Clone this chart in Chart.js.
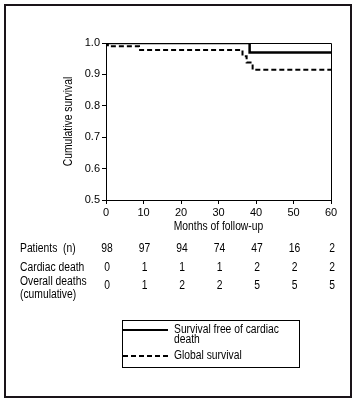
<!DOCTYPE html>
<html>
<head>
<meta charset="utf-8">
<script src="https://cdn.jsdelivr.net/npm/chart.js@4"></script>
<style>
  body { margin: 0; background: #fff; }
  canvas { display: block; }
</style>
</head>
<body>
<canvas id="km-chart" width="358" height="403"></canvas>
<script>
// Kaplan-Meier curves
const cardiacFreeMonths = [0, 38.3, 60];
const cardiacFreeSurvival = [1.0, 0.97, 0.97];
const globalMonths = [0, 0.5, 8.8, 36.4, 37.5, 39.1, 60];
const globalSurvival = [1.0, 0.99, 0.978, 0.958, 0.938, 0.915, 0.915];

// table under the chart
const tableMonths = [0, 10, 20, 30, 40, 50, 60];
const patientsAtRisk = [98, 97, 94, 74, 47, 16, 2];
const cardiacDeaths = [0, 1, 1, 1, 2, 2, 2];
const overallDeaths = [0, 1, 2, 2, 5, 5, 5];

const FONT = '"Liberation Sans", Arial, sans-serif';
const SQUEEZE = 0.86; // the original uses a condensed face

function toPoints(xs, ys) {
  return xs.map(function(x, i) { return { x: x, y: ys[i] }; });
}

// narrow text: squeeze horizontally around the anchor
function narrowText(ctx, text, x, y) {
  ctx.save();
  ctx.translate(x, y);
  ctx.scale(SQUEEZE, 1);
  ctx.fillText(text, 0, 0);
  ctx.restore();
}

// draws frame, box, axis titles, the at-risk table and the legend
const extrasPlugin = {
  id: 'extras',
  afterDraw: function(chart) {
    const ctx = chart.ctx;
    const area = chart.chartArea;
    const xs = chart.scales.x;
    ctx.save();

    // outer frame
    ctx.strokeStyle = '#1a1419';
    ctx.lineWidth = 2;
    ctx.strokeRect(5, 5, 346, 392);

    // top and right edges of the plot box
    ctx.strokeStyle = '#000';
    ctx.lineWidth = 1;
    ctx.beginPath();
    ctx.moveTo(area.left, area.top + 0.5);
    ctx.lineTo(area.right + 0.5, area.top + 0.5);
    ctx.lineTo(area.right + 0.5, area.bottom);
    ctx.stroke();

    ctx.fillStyle = '#000';
    ctx.font = '12px ' + FONT;
    ctx.textBaseline = 'middle';

    // axis titles
    ctx.textAlign = 'center';
    narrowText(ctx, 'Months of follow-up', (area.left + area.right) / 2, 227);
    ctx.save();
    ctx.translate(69, (area.top + area.bottom) / 2);
    ctx.rotate(-Math.PI / 2);
    narrowText(ctx, 'Cumulative survival', 0, 0);
    ctx.restore();

    // at-risk table
    ctx.textAlign = 'left';
    narrowText(ctx, 'Patients  (n)', 20, 249);
    narrowText(ctx, 'Cardiac death', 20, 268);
    narrowText(ctx, 'Overall deaths', 20, 282);
    narrowText(ctx, '(cumulative)', 20, 295);
    ctx.textAlign = 'center';
    tableMonths.forEach(function(m, i) {
      const px = xs.getPixelForValue(m) + 1;
      narrowText(ctx, String(patientsAtRisk[i]), px, 249);
      narrowText(ctx, String(cardiacDeaths[i]), px, 268);
      narrowText(ctx, String(overallDeaths[i]), px, 286);
    });

    // legend
    ctx.lineWidth = 1;
    ctx.strokeRect(122.5, 320.5, 177, 47);
    ctx.lineWidth = 2;
    ctx.beginPath();
    ctx.moveTo(123, 330);
    ctx.lineTo(168, 330);
    ctx.stroke();
    ctx.setLineDash([5, 3]);
    ctx.beginPath();
    ctx.moveTo(123, 356);
    ctx.lineTo(168, 356);
    ctx.stroke();
    ctx.setLineDash([]);
    ctx.textAlign = 'left';
    narrowText(ctx, 'Survival free of cardiac', 174, 330);
    narrowText(ctx, 'death', 174, 340);
    narrowText(ctx, 'Global survival', 174, 356);

    ctx.restore();
  }
};

const ctx = document.getElementById('km-chart').getContext('2d');
const kmChart = new Chart(ctx, {
  type: 'line',
  data: {
    datasets: [
      {
        label: 'Survival free of cardiac death',
        data: toPoints(cardiacFreeMonths, cardiacFreeSurvival),
        borderColor: '#000',
        borderWidth: 2.5,
        stepped: true,
        pointRadius: 0,
        fill: false
      },
      {
        label: 'Global survival',
        data: toPoints(globalMonths, globalSurvival),
        borderColor: '#000',
        borderWidth: 2,
        borderDash: [5, 3],
        stepped: true,
        pointRadius: 0,
        fill: false
      }
    ]
  },
  options: {
    responsive: false,
    animation: false,
    layout: { padding: { top: 43, right: 27, bottom: 173, left: 0 } },
    plugins: {
      legend: { display: false },
      tooltip: { enabled: false }
    },
    scales: {
      x: {
        type: 'linear',
        min: 0,
        max: 60,
        ticks: { stepSize: 10, color: '#000', padding: 2, font: { family: FONT, size: 11 } },
        grid: { drawOnChartArea: false, drawTicks: true, tickLength: 4, color: '#000' },
        border: { display: true, color: '#000', width: 1 },
        afterFit: function(scale) { scale.height = 30; }
      },
      y: {
        min: 0.5,
        max: 1.0,
        ticks: {
          stepSize: 0.1,
          color: '#000',
          padding: 2,
          font: { family: FONT, size: 11 },
          callback: function(v) { return Number(v).toFixed(1); }
        },
        grid: { drawOnChartArea: false, drawTicks: true, tickLength: 4, color: '#000' },
        border: { display: true, color: '#000', width: 1 },
        afterFit: function(scale) { scale.width = 106; }
      }
    }
  },
  plugins: [extrasPlugin]
});
</script>
</body>
</html>
